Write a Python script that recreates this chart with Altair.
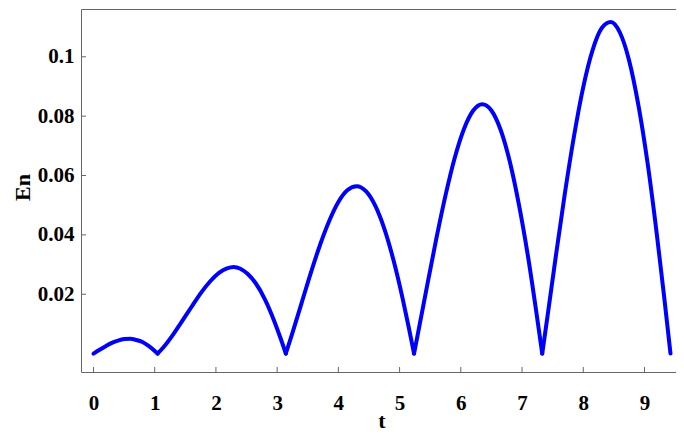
import altair as alt
import pandas as pd

# Values (one run per arch between the cusps)
t_vals = [0.0, 0.1, 0.2, 0.3, 0.4, 0.5, 0.6, 0.7, 0.8, 0.9, 1.0, 1.047,
          1.047, 1.15, 1.3, 1.45, 1.6, 1.75, 1.9, 2.05, 2.18, 2.29, 2.4, 2.52, 2.65, 2.8, 2.95, 3.05, 3.1416,
          3.1416, 3.25, 3.4, 3.55, 3.7, 3.85, 4.0, 4.15, 4.3, 4.45, 4.6, 4.75, 4.9, 5.05, 5.15, 5.236,
          5.236, 5.33, 5.45, 5.6, 5.75, 5.9, 6.05, 6.2, 6.35, 6.5, 6.65, 6.8, 6.95, 7.1, 7.25, 7.33,
          7.33, 7.42, 7.55, 7.7, 7.85, 8.0, 8.15, 8.3, 8.45, 8.6, 8.75, 8.9, 9.05, 9.2, 9.32, 9.425]
en_vals = [0.0, 0.0013, 0.0025, 0.0036, 0.0044, 0.0049, 0.0050, 0.0046, 0.0039, 0.0026, 0.0009, 0.0,
           0.0, 0.0023, 0.0064, 0.0110, 0.0157, 0.0203, 0.0242, 0.0272, 0.0287, 0.0292, 0.0286, 0.0268, 0.0237, 0.0183, 0.0111, 0.0055, 0.0,
           0.0, 0.0070, 0.0171, 0.0272, 0.0366, 0.0447, 0.0511, 0.0551, 0.0564, 0.0547, 0.0499, 0.0421, 0.0315, 0.0185, 0.0088, 0.0,
           0.0, 0.0100, 0.0229, 0.0387, 0.0533, 0.0659, 0.0756, 0.0818, 0.0840, 0.0819, 0.0754, 0.0647, 0.0501, 0.0324, 0.0116, 0.0,
           0.0, 0.0132, 0.0325, 0.0540, 0.0734, 0.0898, 0.1021, 0.1096, 0.1117, 0.1081, 0.0987, 0.0838, 0.0643, 0.0405, 0.0194, 0.0]
arch_vals = [1] * 12 + [2] * 17 + [3] * 16 + [4] * 16 + [5] * 16

x_ticks = [0, 1, 2, 3, 4, 5, 6, 7, 8, 9]
y_ticks = [0.02, 0.04, 0.06, 0.08, 0.1]

x_domain = [-0.204, 9.515]
y_domain = [-0.0062, 0.1161]

W, H = 595, 363
FONT = "Liberation Serif"

df = pd.DataFrame({"t": t_vals, "En": en_vals, "arch": arch_vals})
xt = pd.DataFrame({"t": x_ticks})
yt = pd.DataFrame({"En": y_ticks})

xscale = alt.Scale(domain=x_domain, nice=False, zero=False)
yscale = alt.Scale(domain=y_domain, nice=False, zero=False)

xaxis = alt.Axis(values=x_ticks, format="d", ticks=False, domain=False, grid=False,
                 labelPadding=20, labelFont=FONT, labelFontSize=21, labelFontWeight="bold",
                 labelColor="black", title="t", titleFont=FONT, titleFontSize=22,
                 titleFontWeight="bold", titleColor="black",
                 titleBaseline="alphabetic", titleY=55, titleX=W / 2 + 3, titleAlign="center")
yaxis = alt.Axis(values=y_ticks, format=".2~f", ticks=False, domain=False, grid=False,
                 labelPadding=7, labelFont=FONT, labelFontSize=21, labelFontWeight="bold",
                 labelColor="black", title="En", titleFont=FONT, titleFontSize=22,
                 titleFontWeight="bold", titleColor="black",
                 titleBaseline="alphabetic", titleAngle=270, titleX=-52, titleY=178,
                 titleAlign="center")

line = alt.Chart(df).mark_line(color="#0000FF", strokeWidth=4, strokeJoin="round",
                               strokeCap="round", interpolate="monotone", clip=True).encode(
    x=alt.X("t:Q", scale=xscale, axis=xaxis),
    y=alt.Y("En:Q", scale=yscale, axis=yaxis),
    detail="arch:N",
    order="t:Q",
)

xtick_marks = alt.Chart(xt).mark_rule(color="#666666", strokeWidth=1).encode(
    x=alt.X("t:Q", scale=xscale, axis=xaxis),
    y=alt.value(H),
    y2=alt.value(H - 5),
)

ytick_marks = alt.Chart(yt).mark_rule(color="#666666", strokeWidth=1).encode(
    y=alt.Y("En:Q", scale=yscale, axis=yaxis),
    x=alt.value(0),
    x2=alt.value(5),
)

chart = alt.layer(line, xtick_marks, ytick_marks).properties(
    width=W, height=H,
    autosize="none",
    padding={"left": 73, "top": 1, "right": 0, "bottom": 60},
    background="white",
).configure_view(stroke="#666666", strokeWidth=1)

chart.save("out.html", embed_options={"renderer": "svg", "actions": False})
